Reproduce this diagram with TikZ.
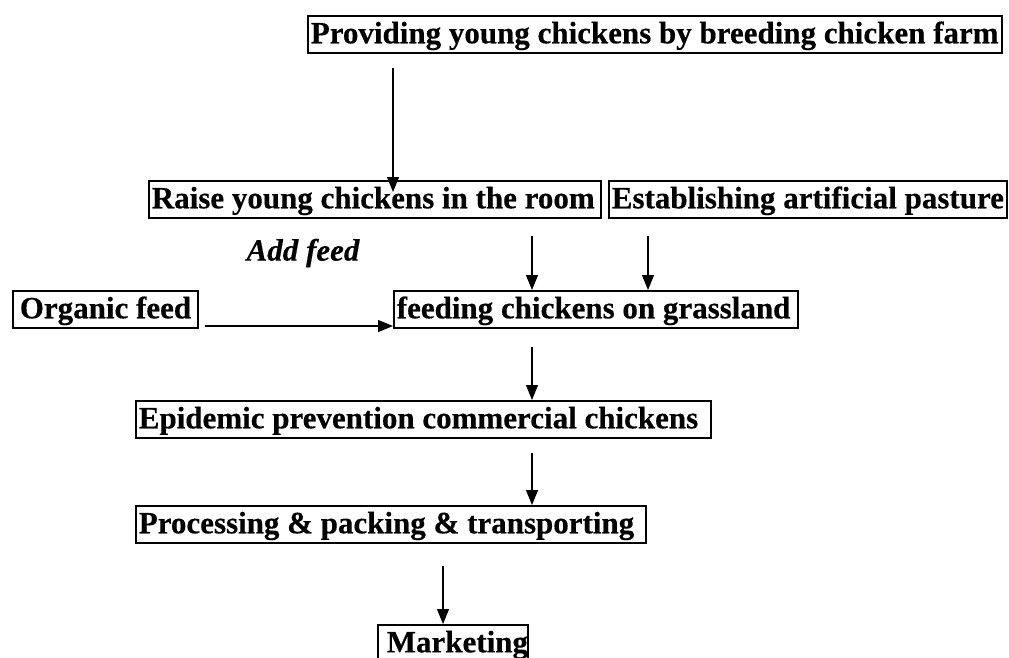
\documentclass[tikz,border=0pt]{standalone}
\usepackage{fontspec}
\setmainfont{Liberation Serif}[BoldFeatures={FakeBold=0.4},BoldItalicFeatures={FakeBold=0.4}]
\usetikzlibrary{arrows.meta,calc}
\newcommand{\bx}[2]{\makebox[#1pt][l]{#2}}
\begin{document}
\begin{tikzpicture}[x=1pt,y=-1pt,
  box/.style={draw, line width=1.6pt, inner xsep=3pt, inner ysep=1.5pt, text height=26pt, text depth=8pt, anchor=north west, font=\bfseries\fontsize{31}{31}\selectfont},
  arr/.style={line width=1.2pt, -{Triangle[length=15pt,width=12pt]}}]
\useasboundingbox (0,0) rectangle (1009,657);
\node[box] (n1) at (307,15) {\bx{688}{Providing young chickens by breeding chicken farm}};
\node[box] (n2) at (148,180) {\bx{446}{Raise young chickens in the room}};
\node[box] (n3) at (608,180) {\bx{392}{Establishing artificial pasture}};
\node[box] (org) at (12,290) {\bx{179}{\hspace*{4pt}Organic feed}};
\node[box] (feed) at (393,290) {\bx{398}{feeding chickens on grassland}};
\node[box] (epi) at (135,400) {\bx{569}{Epidemic prevention commercial chickens}};
\node[box] (proc) at (135,505) {\bx{504}{Processing \& packing \& transporting}};
\node[box] (mkt) at (377,624) {\bx{144}{\hspace*{6pt}Marketing}};
\node[font=\bfseries\itshape\fontsize{31}{31}\selectfont] (add) at (303,253) {Add feed};
\coordinate (s1) at (393,68);
\coordinate (s2) at (532,236);
\coordinate (s3) at (648,236);
\coordinate (s4) at (205,326);
\coordinate (s5) at (532,347);
\coordinate (s6) at (532,453);
\coordinate (s7) at (443,566);
\draw[arr] (s1) -- ($(s1 |- n2.north)+(0,12)$);
\draw[arr] (s2) -- (s2 |- feed.north);
\draw[arr] (s3) -- (s3 |- feed.north);
\draw[arr] (s4) -- (s4 -| feed.west);
\draw[arr] (s5) -- (s5 |- epi.north);
\draw[arr] (s6) -- (s6 |- proc.north);
\draw[arr] (s7) -- (s7 |- mkt.north);
\end{tikzpicture}
\end{document}
